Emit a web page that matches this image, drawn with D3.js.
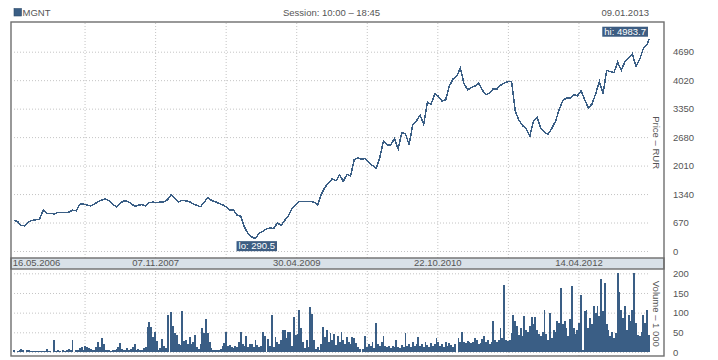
<!DOCTYPE html>
<html>
<head>
<meta charset="utf-8">
<script src="https://cdn.jsdelivr.net/npm/d3@7"></script>
<style>
body { margin: 0; background: #fff; }
text { font-family: "Liberation Sans", Arial, sans-serif; font-size: 9.5px; fill: #555; }
</style>
</head>
<body>
<div id="viz"></div>
<script>
var ticker = "MGNT",
    session = "Session: 10:00 \u2013 18:45",
    lastDate = "09.01.2013",
    firstDate = "16.05.2006",
    priceTitle = "Price \u2013 RUR",
    volumeTitle = "Volume \u2013 1 000";

// price closes, one every 14 days from firstDate, last one on lastDate
var prices = [
  722,690,600,590,690,722,735,750,960,880,
  885,870,905,910,905,915,960,945,1100,1106,
  1080,1059,1110,1160,1200,1224,1180,1100,1042,1122,
  1180,1170,1120,1050,1080,1090,1060,1140,1150,1137,
  1150,1160,1210,1330,1240,1160,1190,1180,1160,1110,
  1070,1042,1150,1260,1190,1160,1120,1090,1040,965,
  965,840,820,560,410,330,290.5,420,460,520,
  540,530,660,600,720,830,1000,1090,1170,1160,
  1170,1170,1150,1082,1330,1500,1600,1700,1650,1790,
  1640,1800,1770,2150,2190,2160,2180,2080,2010,1950,
  2205,2590,2494,2500,2650,2400,2784,2760,2500,2980,
  3060,3200,2980,3500,3450,3700,3640,3530,3560,3880,
  4050,4110,4300,3940,3790,3850,3880,3950,3788,3680,
  3720,3820,3810,3900,3950,3984,3990,3300,3082,2950,
  2880,2700,3060,3150,2890,2790,2750,2886,3050,3320,
  3540,3600,3600,3680,3650,3770,3560,3370,3460,3700,
  3990,3700,4250,4220,4200,4440,4250,4460,4550,4640,
  4350,4500,4760,4850,4983.7
];
var priceStepDays = 14;

// weekly volume, thousands
var volumes = [
  4,0,3,5,8,4,0,5,4,3,
  3,3,3,3,3,3,3,3,7,3,
  3,0,30,3,5,3,0,4,3,5,
  8,4,30,0,4,5,9,12,6,15,
  12,10,8,5,5,12,25,12,35,20,
  5,5,6,3,5,4,8,12,24,8,
  6,5,10,5,7,12,20,6,8,4,
  6,10,12,64,77,63,39,52,27,6,
  10,33,15,10,94,0,102,65,48,43,
  20,18,103,28,30,20,39,20,25,44,
  12,8,20,60,48,85,47,25,10,5,
  6,4,6,8,15,24,52,15,18,12,
  10,15,12,25,50,20,15,40,12,20,
  20,12,30,18,12,15,52,40,0,33,
  15,94,12,37,25,20,30,57,55,35,
  50,50,15,90,42,45,107,60,25,10,
  30,12,115,96,30,8,12,6,20,64,
  37,55,25,47,30,45,18,40,25,50,
  30,20,39,25,20,38,35,22,12,8,
  0,8,40,12,20,15,25,10,74,20,
  15,25,40,15,12,14,10,15,12,30,
  12,10,18,12,47,15,20,12,25,15,
  20,37,15,20,12,25,18,12,22,15,
  20,36,25,15,20,12,25,15,22,18,
  12,20,0,35,25,50,25,22,27,25,
  22,25,35,30,20,22,34,40,25,30,
  20,25,80,30,25,30,61,35,171,30,
  28,30,48,95,78,65,44,61,40,91,
  55,50,65,88,70,88,55,45,40,50,
  107,45,30,99,35,55,50,78,74,163,
  70,78,61,40,83,167,61,45,55,74,
  146,5,103,107,60,87,70,118,100,118,
  91,185,103,175,70,55,40,50,35,48,
  200,153,107,87,118,55,95,78,107,200,
  74,44,40,50,95,74,107,44
];
var volumeStepDays = 7;

var priceTicks = [0, 670, 1340, 2010, 2680, 3350, 4020, 4690];
var volumeTicks = [0, 50, 100, 150, 200];
// grid dates; every second one gets a label
var gridDates = ["16.05.2006","10.02.2007","07.11.2007","03.08.2008","30.04.2009",
                 "25.01.2010","22.10.2010","19.07.2011","14.04.2012"];

var width = 718, height = 360,
    frame = {left: 11, right: 664, top: 22, bottom: 356},
    plot = {left: 14, right: 649},
    band = {top: 258, bottom: 269},
    color = "#3a5e85";

var parse = d3.timeParse("%d.%m.%Y"),
    fmt = d3.timeFormat("%d.%m.%Y");

var start = parse(firstDate), end = parse(lastDate);
var priceData = prices.map((v, i) => ({
  date: i < prices.length - 1 ? d3.timeDay.offset(start, i * priceStepDays) : end,
  value: v
}));
var volumeData = volumes.map((v, i) => ({date: d3.timeDay.offset(start, i * volumeStepDays), value: v}));

var svg = d3.select("#viz").append("svg")
  .attr("width", width)
  .attr("height", height);

var x = d3.scaleTime().domain([start, end]).range([plot.left, plot.right]);
var yPrice = d3.scaleLinear().domain([-165, 5389]).range([band.top, frame.top]);
var yVol = d3.scaleLinear().domain([-10.2, 208.4]).range([frame.bottom, band.bottom + 1]);

// header
svg.append("rect").attr("x", 14).attr("y", 8.5).attr("width", 7.5).attr("height", 7.5)
  .attr("fill", color).attr("stroke", "#2d4a6a").attr("stroke-width", 0.6);
svg.append("text").attr("x", 22.5).attr("y", 16).text(ticker);
svg.append("text").attr("x", (plot.left + plot.right) / 2).attr("y", 16)
  .attr("text-anchor", "middle").text(session);
svg.append("text").attr("x", plot.right).attr("y", 16)
  .attr("text-anchor", "end").text(lastDate);

// grids
function styleGrid(g) {
  g.select(".domain").remove();
  g.selectAll("line").attr("stroke", "#c4c4c4").attr("stroke-dasharray", "1,2");
}
var vGrid = gridDates.slice(1).map(parse);

svg.append("g")
  .attr("transform", `translate(0,${band.top})`)
  .call(d3.axisBottom(x).tickValues(vGrid).tickSize(-(band.top - frame.top)).tickFormat(""))
  .call(styleGrid);
svg.append("g")
  .attr("transform", `translate(0,${frame.bottom})`)
  .call(d3.axisBottom(x).tickValues(vGrid).tickSize(-(frame.bottom - band.bottom)).tickFormat(""))
  .call(styleGrid);
svg.append("g")
  .attr("transform", `translate(${plot.left},0)`)
  .call(d3.axisRight(yPrice).tickValues(priceTicks).tickSize(plot.right - plot.left).tickFormat(""))
  .call(styleGrid);
svg.append("g")
  .attr("transform", `translate(${plot.left},0)`)
  .call(d3.axisRight(yVol).tickValues(volumeTicks).tickSize(plot.right - plot.left).tickFormat(""))
  .call(styleGrid);

// volume bars
var barW = x(d3.timeDay.offset(start, volumeStepDays)) - x(start);
svg.append("g").selectAll("rect")
  .data(volumeData.filter(d => d.value > 0))
  .enter().append("rect")
  .attr("x", d => x(d.date) - barW / 2)
  .attr("width", barW)
  .attr("y", d => yVol(d.value))
  .attr("height", d => yVol(0) - yVol(d.value))
  .attr("fill", color)
  .attr("shape-rendering", "crispEdges");

// price line
svg.append("path")
  .datum(priceData)
  .attr("fill", "none")
  .attr("stroke", color)
  .attr("stroke-width", 1.5)
  .attr("shape-rendering", "crispEdges")
  .attr("d", d3.line().x(d => x(d.date)).y(d => yPrice(d.value)));

// date band
svg.append("rect")
  .attr("x", frame.left).attr("y", band.top)
  .attr("width", frame.right - frame.left).attr("height", band.bottom - band.top)
  .attr("fill", "#d9e1e8").attr("stroke", "#6e6e6e").attr("stroke-width", 1.4);

var labelDates = gridDates.filter((d, i) => i % 2 == 0).map(parse);
var dateAxis = svg.append("g")
  .attr("transform", `translate(0,${band.top + 1.5})`)
  .call(d3.axisBottom(x).tickValues(labelDates).tickSize(0).tickPadding(0).tickFormat(fmt));
dateAxis.select(".domain").remove();
dateAxis.selectAll("text").style("font-size", "9.5px").style("font-family", "'Liberation Sans', Arial, sans-serif")
  .attr("fill", "#555");
dateAxis.select(".tick text").attr("text-anchor", "start").attr("x", -1.7);

// frame
svg.append("rect")
  .attr("x", frame.left).attr("y", frame.top)
  .attr("width", frame.right - frame.left).attr("height", frame.bottom - frame.top)
  .attr("fill", "none").attr("stroke", "#6e6e6e").attr("stroke-width", 1.4);

// right axis labels
function styleLabels(g) {
  g.select(".domain").remove();
  g.selectAll("text").style("font-size", "9.5px").style("font-family", "'Liberation Sans', Arial, sans-serif")
    .attr("fill", "#555");
}
svg.append("g")
  .attr("transform", "translate(673,0)")
  .call(d3.axisRight(yPrice).tickValues(priceTicks).tickSize(0).tickPadding(0).tickFormat(d3.format("d")))
  .call(styleLabels);
svg.append("g")
  .attr("transform", "translate(673,0)")
  .call(d3.axisRight(yVol).tickValues(volumeTicks).tickSize(0).tickPadding(0).tickFormat(d3.format("d")))
  .call(styleLabels);

svg.append("text")
  .attr("transform", `translate(656,${yPrice(2550)}) rotate(90)`)
  .attr("text-anchor", "middle").attr("dominant-baseline", "central")
  .text(priceTitle);
svg.append("text")
  .attr("transform", `translate(656,${yVol(97)}) rotate(90)`)
  .attr("text-anchor", "middle").attr("dominant-baseline", "central")
  .text(volumeTitle);

// lo / hi markers
var lo = priceData.reduce((a, b) => b.value < a.value ? b : a);
var hi = priceData.reduce((a, b) => b.value > a.value ? b : a);

function marker(label, cx, top, anchor) {
  var g = svg.append("g");
  var t = g.append("text").attr("fill", "#fff").style("fill", "#fff").text(label);
  var w = t.node().getComputedTextLength() + 4, h = 10;
  var left = anchor == "middle" ? cx - w / 2 : cx - w;
  g.insert("rect", "text").attr("x", left).attr("y", top).attr("width", w).attr("height", h)
    .attr("fill", "#3d5d82");
  t.attr("x", left + 2).attr("y", top + 8.3);
}
marker("lo: " + lo.value, x(lo.date) + 1.3, yPrice(lo.value) + 2.5, "middle");
marker("hi: " + hi.value, x(hi.date) - 1, yPrice(hi.value) - 12.5, "end");
</script>
</body>
</html>
